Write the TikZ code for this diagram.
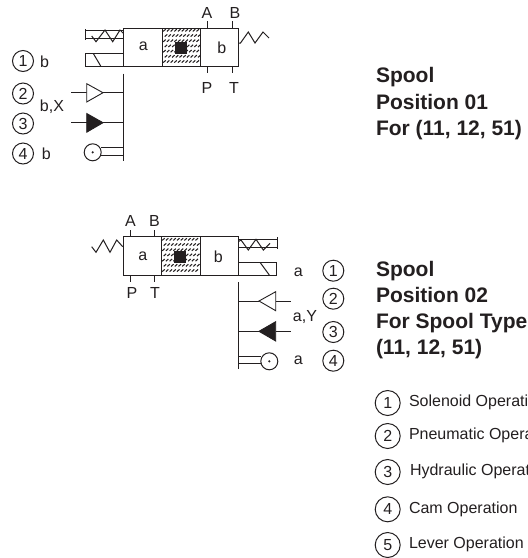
\documentclass[tikz,border=0pt]{standalone}
\usepackage{fontspec}
\setmainfont{Liberation Sans}
\definecolor{ink}{HTML}{231F20}
\tikzset{
  every node/.style={inner sep=0pt,outer sep=0pt,text=ink},
  ln/.style={draw=ink,line width=1pt},
  lab/.style={font=\fontsize{16}{18}\selectfont,anchor=center},
  ttl/.style={font=\bfseries\fontsize{21}{25}\selectfont,anchor=base west},
  item/.style={font=\fontsize{16}{18}\selectfont,anchor=west},
  num/.style={circle,draw=ink,line width=1pt,minimum size=21pt,font=\fontsize{16}{18}\selectfont},
  lnum/.style={circle,draw=ink,line width=1pt,minimum size=25pt,font=\fontsize{16}{18}\selectfont},
  opentri/.style={draw=ink,line width=.9pt,fill=white},
  filltri/.style={draw=ink,line width=.9pt,fill=ink},
  blk/.style={fill=ink,minimum size=12pt,draw=none},
}
\newcommand{\hatchcell}[3]{% x0 x1 ytop
  \draw[ink,line width=.9pt,dash pattern=on 1.6pt off 1pt] (#1,#3) -- (#1,#3+38) (#2,#3) -- (#2,#3+38);
  \foreach \r in {0,...,6}{
    \foreach \c in {0,...,9}{
      \draw[ink,line width=1.05pt] ({#1+1.2+\c*3.7+mod(\r,2)*1.5},{#3+3.4+\r*5.2}) -- ++(2.5,-2.2);
    }
  }
}
\begin{document}
\begin{tikzpicture}[x=1pt,y=-1pt]
\fill[white] (0,0) rectangle (528,558);
\useasboundingbox (0,0) rectangle (528,558);
\begin{scope}
\clip (0,0) rectangle (528,558);

% ---- upper valve
\hatchcell{162}{200.5}{28}
\draw[ln] (123.7,28) rectangle (238.7,66);
\draw[ln] (162,28) -- (162,66) (200.5,28) -- (200.5,66);
\node[blk] (sqa) at (181,48) {};
\node[lab] (a1) at (143.3,46.5) {a};
\node[lab] (b1) at (221.7,47.5) {b};
\node[lab] (pA1) at (207,13) {A};
\node[lab] (pB1) at (235,13) {B};
\node[lab] (pP1) at (207,88) {P};
\node[lab] (pT1) at (234,88) {T};
\draw[ln] (207,21) -- (207,28) (232,21) -- (232,28) (207,67) -- (207,73) (232,67) -- (232,73);
\draw[ln] (239,43) -- (240.5,43) -- (248.3,32) -- (255,43) -- (263,32) -- (269,38);
\draw[ln] (85,29) -- (85,40);
\draw[ln] (85,30.7) -- (123.7,30.7) (85,38.7) -- (123.7,38.7);
\draw[ln] (91.7,36) -- (96,41.7) -- (105,30) -- (112.7,41.7) -- (120,30) -- (123.3,33.3);
\draw[ln] (123.7,53.5) -- (85,53.5) -- (85,66) -- (123.7,66);
\draw[ln] (93.3,53.5) -- (100.7,66);
\draw[ln] (123.7,73.5) -- (123.7,160.5);
\draw[ln] (71,92.7) -- (86.7,92.7) (103,92.7) -- (123.7,92.7);
\draw[opentri] (86.7,83.7) -- (103,92.7) -- (86.7,102) -- cycle;
\draw[ln] (71,122.7) -- (86.7,122.7) (103,122.7) -- (123.7,122.7);
\draw[filltri] (86.7,113.5) -- (103,122.7) -- (86.7,132.2) -- cycle;
\draw[ln] (101,147.3) -- (123.7,147.3) (101,155) -- (123.7,155);
\draw[ln,fill=white] (92.7,152.3) circle (8.5);
\fill[ink] (92.7,152.3) circle (1.2);
\node[num] (u1) at (23,61) {1};
\node[num] (u2) at (23,93.5) {2};
\node[num] (u3) at (23,123.5) {3};
\node[num] (u4) at (23,153.5) {4};
\node[lab] (ub1) at (44.5,62) {b};
\node[lab] (ubx) at (52,107) {b,X};
\node[lab] (ub4) at (46.3,154) {b};

% ---- lower valve
\hatchcell{161}{200.7}{237}
\draw[ln] (123.3,236.7) rectangle (238,275);
\draw[ln] (161,236.7) -- (161,275) (200.7,236.7) -- (200.7,275);
\node[blk] (sqb) at (180,256.7) {};
\node[lab] (a2) at (142.7,256) {a};
\node[lab] (b2) at (218.3,257) {b};
\node[lab] (pA2) at (130.5,221) {A};
\node[lab] (pB2) at (154.5,221) {B};
\node[lab] (pP2) at (132,293) {P};
\node[lab] (pT2) at (155,293) {T};
\draw[ln] (130,230) -- (130,236.7) (154.7,230) -- (154.7,236.7) (130,276) -- (130,282) (154.7,276) -- (154.7,282);
\draw[ln] (91.7,246.7) -- (96,252.3) -- (103.3,240) -- (110,252.3) -- (116.7,240) -- (122.7,246.7);
\draw[ln] (277.3,237.3) -- (277.3,249.3);
\draw[ln] (238,239.3) -- (277.3,239.3) (238,247.3) -- (277.3,247.3);
\draw[ln] (238.3,241.7) -- (241,240) -- (248.3,250) -- (256,239.3) -- (263.3,250) -- (270,243.3);
\draw[ln] (238,262.3) -- (276.7,262.3) -- (276.7,275) -- (238,275);
\draw[ln] (260,262.3) -- (269.3,275);
\draw[ln] (238,282.3) -- (238,369.3);
\draw[ln] (238,301) -- (259,301) (275.7,301) -- (290.7,301);
\draw[opentri] (275.7,291.7) -- (259,301) -- (275.7,310.7) -- cycle;
\draw[ln] (238,331.3) -- (259,331.3) (275.7,331.3) -- (290.7,331.3);
\draw[filltri] (275.7,321.7) -- (259,331.3) -- (275.7,341) -- cycle;
\draw[ln] (238,356) -- (261,356) (238,363.7) -- (261,363.7);
\draw[ln,fill=white] (269.3,361.3) circle (8.5);
\fill[ink] (269.3,361.3) circle (1.2);
\node[num] (d1) at (333.3,270.7) {1};
\node[num] (d2) at (333.3,298.7) {2};
\node[num] (d3) at (333.3,332) {3};
\node[num] (d4) at (333.3,360.7) {4};
\node[lab] (da1) at (298.3,272) {a};
\node[lab] (day) at (305,316.7) {a,Y};
\node[lab] (da4) at (298.3,360.7) {a};

% ---- titles
\node[ttl] (t1) at (376,82.3) {Spool};
\node[ttl] (t2) at (376,109) {Position 01};
\node[ttl] (t3) at (376,135) {For (11, 12, 51)};
\node[ttl] (t4) at (376,276.7) {Spool};
\node[ttl] (t5) at (376,302.5) {Position 02};
\node[ttl] (t6) at (376,328.3) {For Spool Type};
\node[ttl] (t7) at (376,354.3) {(11, 12, 51)};

% ---- legend
\node[lnum] (l1) at (387.7,403) {1};
\node[lnum] (l2) at (387.7,436) {2};
\node[lnum] (l3) at (387.7,472) {3};
\node[lnum] (l4) at (387.7,509.3) {4};
\node[lnum] (l5) at (387.7,545) {5};
\node[item] (i1) at (409,402) {Solenoid Operati};
\node[item] (i2) at (409,435.5) {Pneumatic Opera};
\node[item] (i3) at (410,471) {Hydraulic Operat};
\node[item] (i4) at (409,509) {Cam Operation};
\node[item] (i5) at (409,544) {Lever Operation};
\end{scope}
\end{tikzpicture}
\end{document}
